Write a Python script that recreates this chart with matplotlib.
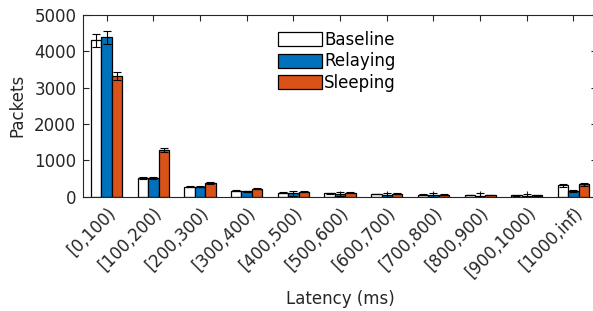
import numpy as np
import matplotlib
matplotlib.use('Agg')
import matplotlib.pyplot as plt

categories = ['[0,100)', '[100,200)', '[200,300)', '[300,400)', '[400,500)', '[500,600)',
              '[600,700)', '[700,800)', '[800,900)', '[900,1000)', '[1000,inf)']
baseline = [4310, 510, 280, 165, 110, 95, 75, 60, 45, 35, 320]
relaying = [4390, 515, 275, 145, 90, 75, 50, 40, 30, 25, 150]
sleeping = [3320, 1280, 380, 215, 135, 110, 85, 60, 45, 35, 345]
baseline_err = [180, 25, 20, 15, 15, 10, 10, 10, 10, 10, 40]
relaying_err = [175, 25, 20, 15, 60, 60, 60, 60, 60, 60, 25]
sleeping_err = [120, 50, 20, 15, 15, 10, 10, 10, 10, 10, 45]

series = [('Baseline', baseline, baseline_err, 'white'),
          ('Relaying', relaying, relaying_err, '#0072BD'),
          ('Sleeping', sleeping, sleeping_err, '#D95319')]

axcol = '#262626'
fig = plt.figure(figsize=(5.93, 3.11), dpi=100)
ax = fig.add_axes([0.1405, 0.3675, 0.8658, 0.5842])

x = np.arange(1, len(categories) + 1)
w = 0.222
for i, (name, vals, err, col) in enumerate(series):
    pos = x + (i - 1) * w
    ax.bar(pos, vals, width=w, color=col, edgecolor='black', linewidth=0.9, label=name, zorder=2)
    ax.errorbar(pos, vals, yerr=err, fmt='none', ecolor='black', elinewidth=0.8,
                capsize=3.2, capthick=0.8, zorder=3)

ax.set_xlim(0.5, len(categories) + 0.5)
ax.set_ylim(0, 5000)
ax.set_yticks([0, 1000, 2000, 3000, 4000, 5000])
ax.set_xticks(x)
ax.set_xticklabels(categories, rotation=45, ha='right', rotation_mode='anchor')
ax.tick_params(direction='in', top=True, right=True, length=4, width=0.8,
               labelsize=12, colors=axcol, pad=5)
for s in ax.spines.values():
    s.set_color(axcol)
    s.set_linewidth(0.8)
ax.set_ylabel('Packets', fontsize=12, color=axcol, labelpad=6)
ax.set_xlabel('Latency (ms)', fontsize=12, color=axcol, labelpad=6)

leg = ax.legend(loc='upper left', bbox_to_anchor=(0.379, 0.912), frameon=False, fontsize=12,
                handlelength=2.65, handleheight=0.9, handletextpad=0.12, labelspacing=0.2,
                borderaxespad=0, borderpad=0)

fig.savefig('out.png', dpi=100)
